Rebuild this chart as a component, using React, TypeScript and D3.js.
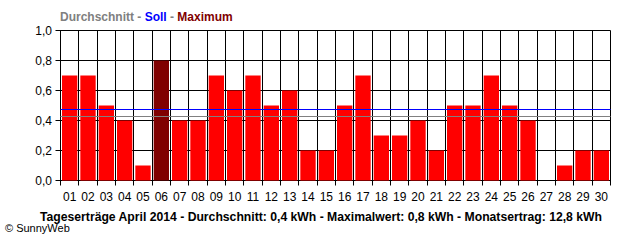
import React from "react";
import * as d3 from "d3";

const days = ["01","02","03","04","05","06","07","08","09","10","11","12","13","14","15","16","17","18","19","20","21","22","23","24","25","26","27","28","29","30"];
const yields = [0.7,0.7,0.5,0.4,0.1,0.8,0.4,0.4,0.7,0.6,0.7,0.5,0.6,0.2,0.2,0.5,0.7,0.3,0.3,0.4,0.2,0.5,0.5,0.7,0.5,0.4,0,0.1,0.2,0.2];
const yTicks = [0, 0.2, 0.4, 0.6, 0.8, 1.0];
const average = 0.425;
const target = 0.472;
const maxValue = 0.8;
const bottomTitle = "Tageserträge April 2014 - Durchschnitt: 0,4 kWh - Maximalwert: 0,8 kWh - Monatsertrag: 12,8 kWh";

const W = 640, H = 240;
const L = 60.5, R = 610.5, T = 30.5, B = 180.5;

export default function App() {
  const x = d3.scaleBand<string>().domain(days).range([L, R]).paddingInner(0).paddingOuter(0);
  const y = d3.scaleLinear().domain([0, 1]).range([B, T]);
  const bw = x.bandwidth();
  const fmt = (v: number) => d3.format(".1f")(v).replace(".", ",");
  const font = "'Liberation Sans', Arial, sans-serif";
  const px = (v: number) => Math.floor(v) + 0.5;
  return (
    <svg width={W} height={H} style={{ position: "absolute", left: 0, top: 0, background: "#fff" }} fontFamily={font}>
      <rect x={0} y={0} width={W} height={H} fill="#fff" />
      <text x={60} y={21} fontSize={12} fontWeight="bold">
        <tspan fill="#808080">Durchschnitt - </tspan>
        <tspan fill="#0000ff">Soll</tspan>
        <tspan fill="#808080"> - </tspan>
        <tspan fill="#800000">Maximum</tspan>
      </text>
      {yTicks.map((t) => (
        <g key={"y" + t}>
          <line x1={L - 5} x2={R} y1={px(y(t))} y2={px(y(t))} stroke="#000" strokeWidth={1} />
          <text x={52} y={y(t) + 4} fontSize={12} textAnchor="end" fill="#000">{fmt(t)}</text>
        </g>
      ))}
      {days.map((d) => (
        <line key={"v" + d} x1={px(x(d)!)} x2={px(x(d)!)} y1={T} y2={B + 5} stroke="#000" strokeWidth={1} />
      ))}
      <line x1={R} x2={R} y1={T} y2={B + 5} stroke="#000" strokeWidth={1} />
      {days.map((d, i) => (
        <rect key={"b" + d}
          x={x(d)! + 1.5}
          y={y(yields[i])}
          width={bw - 3}
          height={B - y(yields[i])}
          fill={yields[i] === maxValue ? "#800000" : "#ff0000"} />
      ))}
      <line x1={L} x2={R} y1={px(y(target))} y2={px(y(target))} stroke="#0000ff" strokeWidth={1} />
      <line x1={L} x2={R} y1={px(y(average))} y2={px(y(average))} stroke="#808080" strokeWidth={1} />
      {days.map((d) => (
        <text key={"t" + d} x={x(d)! + bw / 2} y={201} fontSize={12} textAnchor="middle" fill="#000">{d}</text>
      ))}
      <text x={321} y={221} fontSize={12} fontWeight="bold" textAnchor="middle" fill="#000" textLength={562} lengthAdjust="spacingAndGlyphs">{bottomTitle}</text>
      <text x={5} y={232} fontSize={11} fill="#000">© SunnyWeb</text>
    </svg>
  );
}
